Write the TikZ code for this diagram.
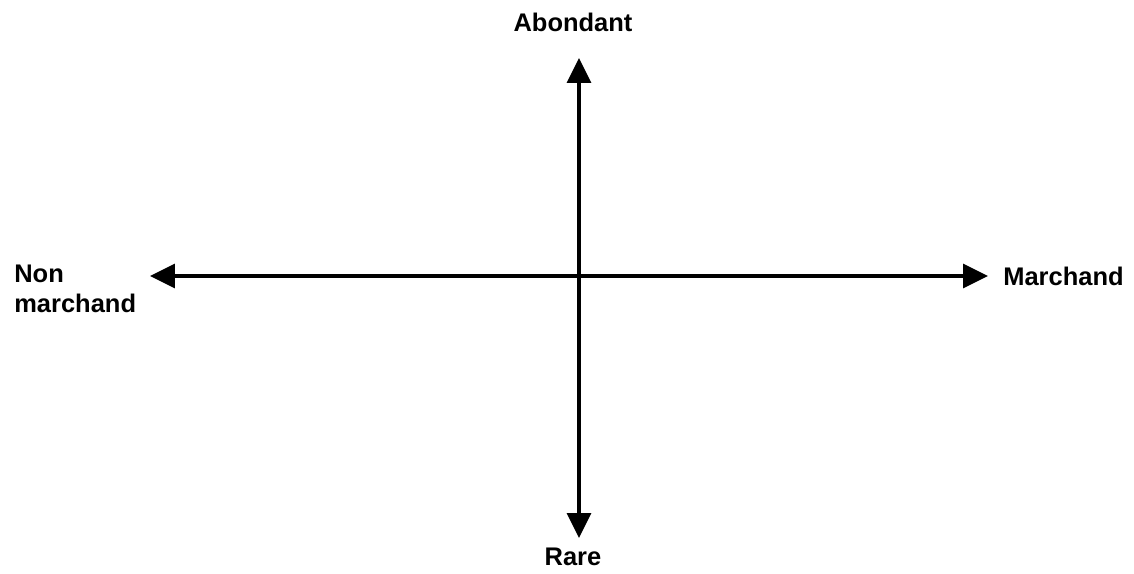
\documentclass[tikz,border=0pt]{standalone}
\usepackage{fontspec}
\setmainfont{Liberation Sans}
\usetikzlibrary{positioning, arrows.meta}

\begin{document}
\begin{tikzpicture}[
    x=0.02cm, y=-0.02cm,
    >={Triangle[length=0.5cm, width=0.48cm]},
    axis/.style={<->, line width=2pt, black},
    lbl/.style={font=\fontsize{14.5}{17}\selectfont\bfseries, inner sep=0pt, align=left},
]
\useasboundingbox (0,0) rectangle (1134,574);

% axis end points
\coordinate (left) at (150,276);
\coordinate (right) at (988,276);
\coordinate (top) at (579,58);
\coordinate (bottom) at (579,538);

% labels
\node[lbl] (abond) at (573,22) {Abondant};
\node[lbl] (rare) at (573,557) {Rare};
\node[lbl, anchor=west] (march) at (1003,276) {Marchand};
\node[lbl, anchor=north west] (nonmarch) at (14,265) {Non\\marchand};

% axes
\draw[axis] (left) -- (right);
\draw[axis] (bottom) -- (top);

\end{tikzpicture}
\end{document}
